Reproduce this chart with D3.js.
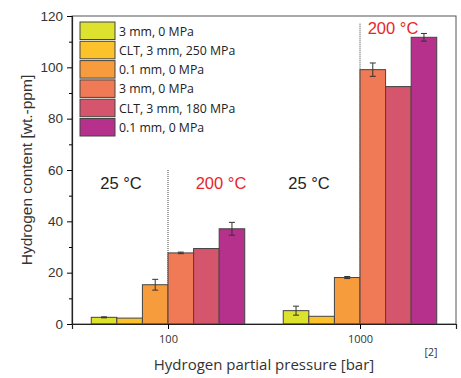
<!DOCTYPE html>
<html>
<head>
<meta charset="utf-8">
<script src="https://cdn.jsdelivr.net/npm/d3@7"></script>
<style>
  body { margin: 0; background: #fff; }
  svg { display: block; }
</style>
</head>
<body>
<figure id="chart" style="margin:0"></figure>
<script>
// data
const pressures = [100, 1000];
const series = ["3 mm, 0 MPa", "CLT, 3 mm, 250 MPa", "0.1 mm, 0 MPa", "3 mm, 0 MPa", "CLT, 3 mm, 180 MPa", "0.1 mm, 0 MPa"];
const colors = ["#dde22e", "#fbc22c", "#f79c3d", "#ef7a55", "#d5566c", "#b5318b"];
const values100 = [2.6, 2.3, 15.3, 27.7, 29.4, 37.1];
const errors100 = [0.2, 0, 2.1, 0.3, 0, 2.5];
const values1000 = [5.2, 3.0, 18.1, 99.1, 92.5, 111.7];
const errors1000 = [1.75, 0, 0.4, 2.6, 0, 1.5];
const yTicks = [0, 20, 40, 60, 80, 100, 120];

const width = 461, height = 378;
const margin = { left: 72, right: 5, top: 16, bottom: 54 };

const svg = d3.select("figure#chart")
  .append("svg")
  .attr("width", width)
  .attr("height", height);

const x = d3.scaleLog()
  .domain([Math.pow(10, 1.5), Math.pow(10, 3.5)])
  .range([margin.left, width - margin.right]);

const y = d3.scaleLinear()
  .domain([0, 120])
  .range([height - margin.bottom, margin.top]);

// six bars per pressure, centred on the pressure value
const groupW = 153.5;
const sub = d3.scaleBand()
  .domain(d3.range(series.length))
  .range([-groupW / 2, groupW / 2]);

const rows = [];
pressures.forEach((p, gi) => {
  const vals = gi === 0 ? values100 : values1000;
  const errs = gi === 0 ? errors100 : errors1000;
  vals.forEach((v, i) => rows.push({ p: p, i: i, v: v, e: errs[i] }));
});

// dotted separators between 25 °C and 200 °C
svg.append("g")
  .selectAll("line")
  .data([{ p: 100, top: 60 }, { p: 1000, top: 117 }])
  .join("line")
  .attr("x1", d => x(d.p)).attr("x2", d => x(d.p))
  .attr("y1", d => y(d.top)).attr("y2", y(0))
  .attr("stroke", "#444")
  .attr("stroke-width", 1)
  .attr("stroke-dasharray", "1,1");

svg.append("g")
  .selectAll("rect")
  .data(rows)
  .join("rect")
  .attr("x", d => x(d.p) + sub(d.i))
  .attr("width", sub.bandwidth())
  .attr("y", d => y(d.v))
  .attr("height", d => y(0) - y(d.v))
  .attr("fill", d => colors[d.i])
  .attr("stroke", "#444")
  .attr("stroke-width", 1);

// error bars
const eb = svg.append("g")
  .attr("stroke", "#333")
  .attr("stroke-width", 1)
  .selectAll("g")
  .data(rows.filter(d => d.e > 0))
  .join("g")
  .attr("transform", d => "translate(" + (x(d.p) + sub(d.i) + sub.bandwidth() / 2) + ",0)");
eb.append("line")
  .attr("y1", d => y(d.v - d.e)).attr("y2", d => y(d.v + d.e));
eb.append("line")
  .attr("x1", -3).attr("x2", 3)
  .attr("y1", d => y(d.v - d.e)).attr("y2", d => y(d.v - d.e));
eb.append("line")
  .attr("x1", -3).attr("x2", 3)
  .attr("y1", d => y(d.v + d.e)).attr("y2", d => y(d.v + d.e));

// frame
svg.append("rect")
  .attr("x", margin.left).attr("y", margin.top)
  .attr("width", width - margin.right - margin.left)
  .attr("height", y(0) - margin.top)
  .attr("fill", "none")
  .attr("stroke", "#555")
  .attr("stroke-width", 1);

// y axis
const yAxis = svg.append("g")
  .attr("transform", "translate(" + margin.left + ",0)")
  .call(d3.axisLeft(y).tickValues(yTicks).tickSize(5).tickPadding(4));
yAxis.select(".domain").attr("stroke", "#222").attr("stroke-width", 1.2);
yAxis.selectAll("text")
  .attr("font-family", "Liberation Sans, Arial, sans-serif")
  .attr("font-size", 13.5)
  .attr("fill", "#333");

svg.append("g")
  .attr("transform", "translate(" + margin.left + ",0)")
  .call(d3.axisLeft(y).tickValues(d3.range(10, 120, 20)).tickSize(3).tickFormat(""))
  .select(".domain").remove();

// x axis
const xAxis = svg.append("g")
  .attr("transform", "translate(0," + y(0) + ")")
  .call(d3.axisBottom(x).tickValues(pressures).tickSize(5).tickPadding(6).tickFormat(d3.format("d")));
xAxis.select(".domain").attr("stroke", "#222").attr("stroke-width", 1.2);
xAxis.selectAll("text")
  .attr("font-family", "Open Sans, sans-serif")
  .attr("font-size", 11)
  .attr("fill", "#333");

// axis titles
svg.append("text")
  .attr("transform", "translate(32," + (margin.top + (y(0) - margin.top) / 2) + ") rotate(-90)")
  .attr("text-anchor", "middle")
  .attr("font-family", "Liberation Sans, Arial, sans-serif")
  .attr("font-size", 15.5)
  .attr("fill", "#333")
  .text("Hydrogen content [wt.-ppm]");

svg.append("text")
  .attr("x", 264).attr("y", 370)
  .attr("text-anchor", "middle")
  .attr("font-family", "Open Sans, sans-serif")
  .attr("font-size", 15)
  .attr("fill", "#333")
  .text("Hydrogen partial pressure [bar]");

svg.append("text")
  .attr("x", 431).attr("y", 356)
  .attr("text-anchor", "middle")
  .attr("font-family", "Open Sans, sans-serif")
  .attr("font-size", 10.5)
  .attr("fill", "#333")
  .text("[2]");

// temperature labels
const temps = [
  { t: "25 °C", xp: 121, yv: 52.5, c: "#222" },
  { t: "200 °C", xp: 221, yv: 52.5, c: "#e8262a" },
  { t: "25 °C", xp: 309, yv: 52.5, c: "#222" },
  { t: "200 °C", xp: 393, yv: 113, c: "#e8262a" }
];
svg.append("g")
  .selectAll("text")
  .data(temps)
  .join("text")
  .attr("x", d => d.xp)
  .attr("y", d => y(d.yv))
  .attr("text-anchor", "middle")
  .attr("font-family", "Liberation Sans, Arial, sans-serif")
  .attr("font-size", 16.5)
  .attr("fill", d => d.c)
  .text(d => d.t);

// legend
const leg = svg.append("g")
  .selectAll("g")
  .data(series)
  .join("g")
  .attr("transform", (d, i) => "translate(80," + (22 + i * 19.3) + ")");
leg.append("rect")
  .attr("width", 35).attr("height", 17.5)
  .attr("fill", (d, i) => colors[i])
  .attr("stroke", "#444")
  .attr("stroke-width", 1);
leg.append("text")
  .attr("x", 39).attr("y", 13.5)
  .attr("font-family", "Open Sans, sans-serif")
  .attr("font-size", 12.3)
  .attr("fill", "#222")
  .text(d => d);
</script>
</body>
</html>
